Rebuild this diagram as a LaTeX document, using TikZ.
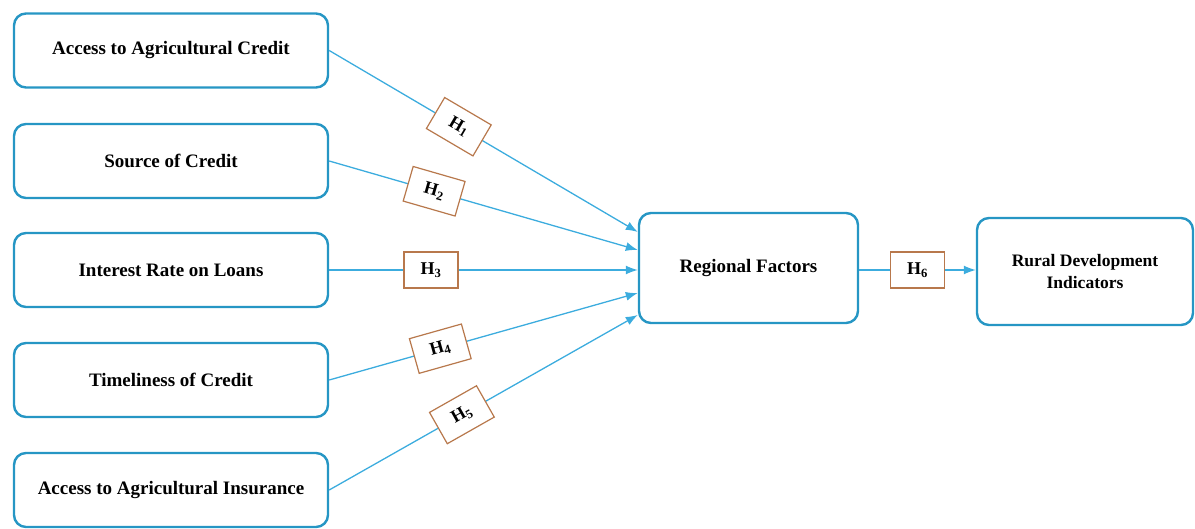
\documentclass[tikz,border=0pt]{standalone}
\usepackage{fontspec}
\setmainfont{Liberation Serif}
\usetikzlibrary{arrows.meta}
\definecolor{boxblue}{RGB}{38,150,196}
\definecolor{lineblue}{RGB}{60,172,222}
\definecolor{hbrown}{RGB}{184,120,76}

\begin{document}
\begin{tikzpicture}[x=1pt, y=-1pt,
	factor/.style={draw=boxblue, line width=2.4pt, rounded corners=12pt, fill=white,
		minimum width=314pt, minimum height=74pt, font=\fontsize{19}{22}\bfseries\selectfont},
	hbox/.style={draw=hbrown, line width=1.2pt, fill=white, minimum width=54pt,
		minimum height=36pt, inner sep=0pt, font=\fontsize{18}{20}\bfseries\selectfont},
	link/.style={draw=lineblue, line width=1.3pt, -{Latex[length=12pt,width=9pt]}}]
			\useasboundingbox (0,0) rectangle (1195,529);
			
			% Einflussfaktoren links
			\node[factor] (acc) at (171,50.5) {Access to Agricultural Credit};
			\node[factor] (src) at (171,161) {Source of Credit};
			\node[factor] (int) at (171,270) {Interest Rate on Loans};
			\node[factor] (tim) at (171,380) {Timeliness of Credit};
			\node[factor] (ins) at (171,490) {Access to Agricultural Insurance};
			
			\node[factor, minimum width=219pt, minimum height=110pt] (reg) at (748.5,268) {Regional Factors};
			\node[factor, minimum width=216pt, minimum height=107pt, align=center,
				font=\fontsize{17.5}{22}\bfseries\selectfont] (rur) at (1085,271.5) {Rural Development\\Indicators};
			
			% Hypothesen
			\draw[link] (acc.east) -- node[hbox, sloped, pos=.42] {H\textsubscript{1}} ([yshift=36pt]reg.west);
			\draw[link] (src.east) -- node[hbox, sloped, pos=.34] {H\textsubscript{2}} ([yshift=18pt]reg.west);
			\draw[link] (int.east) -- node[hbox, pos=.33] {H\textsubscript{3}} ([yshift=-2pt]reg.west);
			\draw[link] (tim.east) -- node[hbox, sloped, pos=.36] {H\textsubscript{4}} ([yshift=-25pt]reg.west);
			\draw[link] (ins.east) -- node[hbox, sloped, pos=.43] {H\textsubscript{5}} ([yshift=-47pt]reg.west);
			
			\draw[link] ([yshift=-2pt]reg.east) -- node[hbox] {H\textsubscript{6}} ([yshift=1.5pt]rur.west);
		\end{tikzpicture}
\end{document}
